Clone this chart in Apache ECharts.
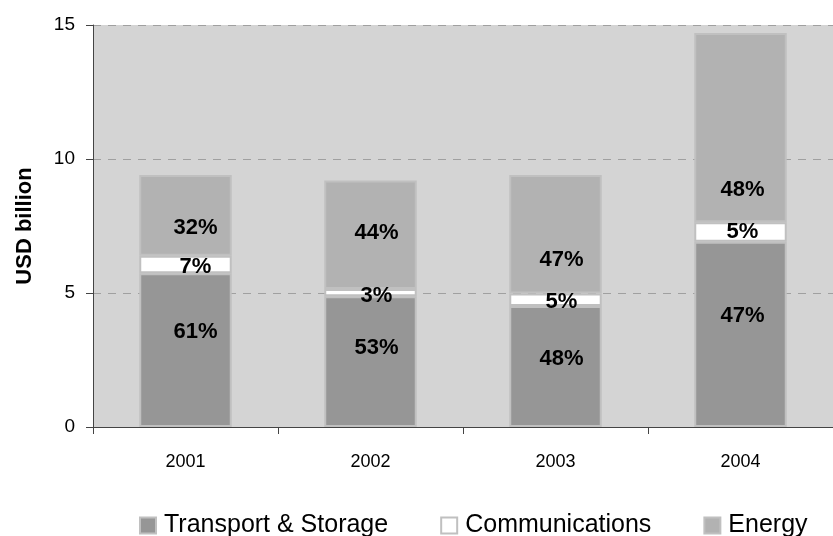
<!DOCTYPE html>
<html>
<head>
<meta charset="utf-8">
<script src="https://cdn.jsdelivr.net/npm/echarts@6/dist/echarts.min.js"></script>
<style>
  html, body { margin: 0; padding: 0; background: #ffffff; }
  #chart { width: 833px; height: 536px; }
</style>
</head>
<body>
<div id="chart"></div>
<script>
// Infrastructure investment by sector, 2001-2004
const years = ['2001', '2002', '2003', '2004'];
const totals = [9.4, 9.2, 9.4, 14.7];          // USD billion per year
const transportShare = [61, 53, 48, 47];       // % of yearly total
const commShare = [7, 3, 5, 5];
const energyShare = [32, 44, 47, 48];
const yTicks = { min: 0, max: 15, step: 5 };

// Hand-placed label nudges (pixels) for readability
const labelDx = [10, 6, 6, 2];
const labelDy = {
  transport: [-18, -14, -8, -18],
  comm: [2, 3, 2, 0],
  energy: [13, -2, 26, 62]
};

const FONT = 'Liberation Sans, Arial, Helvetica, sans-serif';

function seriesData(shares, dy) {
  return shares.map((p, i) => ({
    value: +(totals[i] * p / 100).toFixed(3),
    share: p,
    label: { offset: [labelDx[i], dy[i]] }
  }));
}

function barSeries(name, shares, color, dy) {
  return {
    name: name,
    type: 'bar',
    stack: 'total',
    barWidth: '50%',
    data: seriesData(shares, dy),
    itemStyle: { color: color, borderColor: '#c0c0c0', borderWidth: 2 },
    label: {
      show: true,
      position: 'inside',
      formatter: p => p.data.share + '%',
      color: '#000',
      fontFamily: FONT,
      fontWeight: 'bold',
      fontSize: 22
    },
    emphasis: { disabled: true }
  };
}

const chart = echarts.init(document.getElementById('chart'), null, { renderer: 'canvas' });
chart.setOption({
  animation: false,
  backgroundColor: '#ffffff',
  grid: {
    left: 93, top: 25, width: 750, height: 402,
    show: true, backgroundColor: '#d4d4d4', borderWidth: 0
  },
  legend: {
    left: 139, top: 513,
    itemWidth: 16, itemHeight: 16, itemGap: 52,
    icon: 'rect',
    padding: 0,
    textStyle: { fontFamily: FONT, fontSize: 25, color: '#000', padding: [0, 0, 0, 3] },
    data: ['Transport & Storage', 'Communications', 'Energy']
  },
  xAxis: {
    type: 'category',
    data: years,
    axisLine: { lineStyle: { color: '#444', width: 1 } },
    axisTick: { show: true, length: 7, lineStyle: { color: '#444' } },
    axisLabel: { color: '#000', fontFamily: FONT, fontSize: 18, margin: 26 }
  },
  yAxis: {
    type: 'value',
    min: yTicks.min, max: yTicks.max, interval: yTicks.step,
    name: 'USD billion',
    nameLocation: 'middle',
    nameGap: 57,
    nameTextStyle: { fontFamily: FONT, fontSize: 22, fontWeight: 'bold', color: '#000' },
    axisLine: { show: true, lineStyle: { color: '#444', width: 1 } },
    axisTick: { show: true, length: 7, lineStyle: { color: '#444' } },
    axisLabel: { color: '#000', fontFamily: FONT, fontSize: 19, margin: 18 },
    splitLine: { show: true, lineStyle: { color: '#a0a0a0', type: [8, 7], width: 1 } }
  },
  series: [
    barSeries('Transport & Storage', transportShare, '#969696', labelDy.transport),
    barSeries('Communications', commShare, '#ffffff', labelDy.comm),
    barSeries('Energy', energyShare, '#b2b2b2', labelDy.energy)
  ]
});
</script>
</body>
</html>
